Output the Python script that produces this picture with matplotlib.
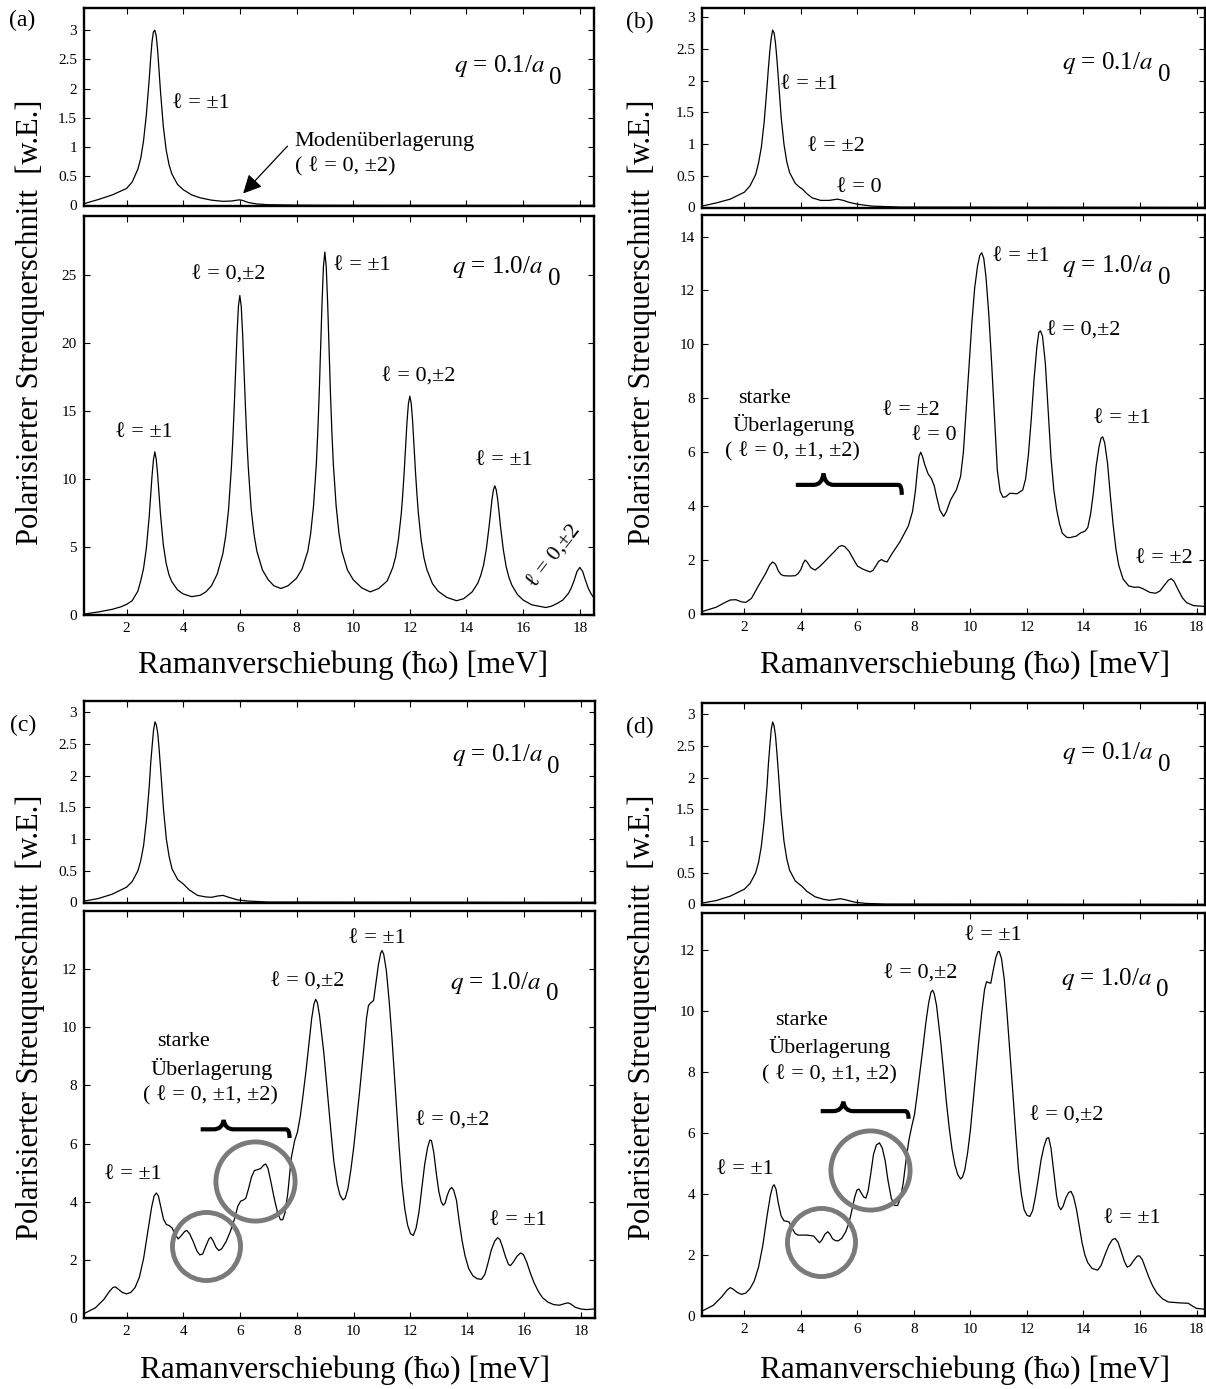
import matplotlib
matplotlib.use("Agg")
import matplotlib.pyplot as plt
from matplotlib.path import Path
from matplotlib.patches import PathPatch

plt.rcParams['font.family'] = ['Liberation Serif', 'DejaVu Serif']
plt.rcParams['mathtext.fontset'] = 'stix'

# ---------------------------------------------------------------------------
# Spectra: Raman shift (meV) and polarised scattering cross section (arb. u.)
# ---------------------------------------------------------------------------

# (a) q = 0.1/a0
shift_a_small = [0.5, 1.0, 1.5, 2.0, 2.2, 2.4, 2.5, 2.6, 2.7, 2.8, 2.85, 2.9, 2.95, 3.0,
                 3.05, 3.1, 3.15, 3.2, 3.3, 3.4, 3.5, 3.6, 3.8, 4.0, 4.3, 4.6, 5.0, 5.4,
                 5.7, 5.9, 6.0, 6.1, 6.3, 6.6, 7.0, 8.0, 10.0, 18.5]
sigma_a_small = [0.03, 0.10, 0.18, 0.29, 0.40, 0.62, 0.80, 1.10, 1.55, 2.15, 2.50, 2.80,
                 2.97, 3.00, 2.90, 2.65, 2.30, 1.95, 1.35, 0.95, 0.70, 0.54, 0.36, 0.27,
                 0.18, 0.13, 0.09, 0.07, 0.075, 0.09, 0.095, 0.085, 0.05, 0.025, 0.012,
                 0.005, 0.002, 0.0]

# (a) q = 1.0/a0
shift_a_large = [0.5, 1.0, 1.5, 1.8, 2.0, 2.2, 2.4, 2.5, 2.6, 2.7, 2.8, 2.85, 2.9, 2.95, 3.0,
                 3.05, 3.1, 3.15, 3.2, 3.3, 3.4, 3.5, 3.6, 3.8, 4.0, 4.3, 4.6, 4.8, 5.0, 5.2,
                 5.4, 5.5, 5.6, 5.7, 5.75, 5.8, 5.85, 5.9, 5.95, 6.0, 6.05, 6.1, 6.15, 6.2,
                 6.25, 6.3, 6.4, 6.5, 6.6, 6.8, 7.0, 7.2, 7.45, 7.7, 8.0, 8.2, 8.4, 8.5, 8.6,
                 8.7, 8.75, 8.8, 8.85, 8.9, 8.95, 9.0, 9.05, 9.1, 9.15, 9.2, 9.25, 9.3, 9.4,
                 9.5, 9.6, 9.8, 10.0, 10.3, 10.6, 10.9, 11.2, 11.4, 11.5, 11.6, 11.7, 11.75,
                 11.8, 11.85, 11.9, 11.95, 12.0, 12.05, 12.1, 12.15, 12.2, 12.25, 12.3, 12.4,
                 12.5, 12.6, 12.8, 13.0, 13.3, 13.65, 13.9, 14.2, 14.4, 14.5, 14.6, 14.7,
                 14.8, 14.85, 14.9, 14.95, 15.0, 15.05, 15.1, 15.15, 15.2, 15.3, 15.4, 15.5,
                 15.6, 15.8, 16.0, 16.3, 16.8, 17.0, 17.2, 17.4, 17.5, 17.6, 17.7, 17.8,
                 17.9, 18.0, 18.1, 18.2, 18.3, 18.4, 18.5]
sigma_a_large = [0.07, 0.22, 0.42, 0.60, 0.78, 1.05, 1.75, 2.50, 3.40, 4.90, 7.20, 8.70,
                 10.2, 11.4, 12.0, 11.45, 10.3, 8.8, 7.4, 5.15, 3.8, 2.95, 2.45, 1.85, 1.55,
                 1.35, 1.45, 1.70, 2.15, 3.0, 4.5, 5.8, 7.7, 10.8, 12.8, 15.2, 17.9, 20.6,
                 22.7, 23.5, 22.7, 20.6, 17.9, 15.2, 12.8, 10.8, 7.8, 5.95, 4.7, 3.3, 2.6,
                 2.15, 1.95, 2.15, 2.7, 3.4, 4.7, 6.0, 8.0, 11.1, 13.4, 16.2, 19.5, 22.9,
                 25.6, 26.7, 25.6, 22.9, 19.5, 16.2, 13.4, 11.1, 8.0, 6.0, 4.7, 3.3, 2.6,
                 2.0, 1.7, 1.95, 2.5, 3.5, 4.3, 5.6, 7.5, 8.9, 10.5, 12.35, 14.2, 15.55,
                 16.1, 15.55, 14.2, 12.35, 10.5, 8.9, 7.5, 5.5, 4.2, 3.35, 2.3, 1.75, 1.3,
                 1.05, 1.2, 1.7, 2.35, 2.9, 3.65, 4.85, 6.55, 7.55, 8.5, 9.2, 9.5, 9.2, 8.5,
                 7.55, 6.5, 4.8, 3.55, 2.75, 2.2, 1.5, 1.1, 0.75, 0.55, 0.65, 0.85, 1.1,
                 1.35, 1.6, 2.0, 2.55, 3.2, 3.5, 3.2, 2.55, 1.95, 1.55, 1.25]

# (b) q = 0.1/a0
shift_b_small = [0.5, 1.0, 1.5, 2.0, 2.2, 2.4, 2.5, 2.6, 2.7, 2.8, 2.85, 2.9, 2.95, 3.0,
                 3.05, 3.1, 3.15, 3.2, 3.3, 3.4, 3.5, 3.6, 3.8, 3.95, 4.05, 4.2, 4.4, 4.7,
                 5.0, 5.3, 5.5, 5.7, 6.0, 6.5, 7.5, 18.5]
sigma_b_small = [0.02, 0.07, 0.13, 0.24, 0.34, 0.52, 0.70, 0.95, 1.35, 1.90, 2.20, 2.47,
                 2.68, 2.80, 2.76, 2.60, 2.35, 2.05, 1.43, 1.00, 0.72, 0.55, 0.38, 0.32,
                 0.29, 0.22, 0.15, 0.11, 0.11, 0.13, 0.11, 0.08, 0.05, 0.02, 0.005, 0.0]

# (b) q = 1.0/a0
shift_b_large = [0.5, 1.0, 1.3, 1.5, 1.7, 1.9, 2.05, 2.25, 2.5, 2.75, 2.9, 3.0, 3.1, 3.2,
                 3.3, 3.4, 3.6, 3.8, 3.9, 4.0, 4.08, 4.15, 4.22, 4.35, 4.5, 4.65, 4.8, 5.0,
                 5.2, 5.35, 5.45, 5.55, 5.7, 5.85, 6.0, 6.2, 6.45, 6.55, 6.65, 6.75, 6.85,
                 6.95, 7.05, 7.2, 7.5, 7.8, 7.95, 8.05, 8.12, 8.18, 8.24, 8.3, 8.38, 8.5,
                 8.62, 8.72, 8.8, 8.92, 9.05, 9.15, 9.3, 9.5, 9.65, 9.75, 9.85, 9.95, 10.05,
                 10.15, 10.25, 10.33, 10.4, 10.47, 10.55, 10.65, 10.75, 10.85, 10.95, 11.05,
                 11.15, 11.25, 11.4, 11.65, 11.85, 11.95, 12.05, 12.15, 12.25, 12.35, 12.42,
                 12.48, 12.55, 12.65, 12.75, 12.85, 12.95, 13.05, 13.15, 13.25, 13.4, 13.5,
                 13.75, 13.9, 14.05, 14.15, 14.25, 14.35, 14.45, 14.55, 14.62, 14.68, 14.75,
                 14.85, 14.95, 15.05, 15.15, 15.25, 15.4, 15.6, 15.8, 15.95, 16.1, 16.35,
                 16.55, 16.7, 16.85, 17.0, 17.1, 17.2, 17.35, 17.5, 17.65, 17.9, 18.3]
sigma_b_large = [0.09, 0.25, 0.42, 0.52, 0.53, 0.45, 0.43, 0.58, 1.05, 1.50, 1.82, 1.93,
                 1.85, 1.60, 1.46, 1.42, 1.41, 1.42, 1.50, 1.65, 1.88, 2.00, 1.93, 1.72,
                 1.63, 1.75, 1.90, 2.12, 2.33, 2.50, 2.54, 2.50, 2.33, 2.05, 1.78, 1.66,
                 1.56, 1.62, 1.78, 1.95, 2.02, 1.96, 1.93, 2.20, 2.67, 3.26, 3.80, 4.55,
                 5.30, 5.85, 6.00, 5.85, 5.55, 5.20, 5.02, 4.75, 4.36, 3.85, 3.62, 3.80,
                 4.24, 4.60, 5.10, 6.00, 7.60, 9.20, 10.8, 12.1, 12.9, 13.3, 13.4, 13.2,
                 12.5, 11.1, 9.30, 7.30, 5.34, 4.55, 4.33, 4.35, 4.48, 4.46, 4.60, 5.00,
                 5.90, 7.20, 8.70, 9.90, 10.45, 10.5, 10.3, 9.30, 7.55, 5.80, 4.60, 3.87,
                 3.35, 3.00, 2.85, 2.83, 2.89, 3.01, 3.07, 3.20, 3.70, 4.50, 5.50, 6.20,
                 6.52, 6.57, 6.35, 5.60, 4.40, 3.30, 2.40, 1.80, 1.30, 1.04, 0.99, 1.00,
                 0.94, 0.80, 0.77, 0.85, 1.05, 1.25, 1.31, 1.22, 0.90, 0.60, 0.42, 0.31,
                 0.28]

# (c) q = 0.1/a0
shift_c_small = [0.5, 1.0, 1.5, 2.0, 2.2, 2.4, 2.5, 2.6, 2.7, 2.8, 2.85, 2.9, 2.95, 3.0,
                 3.05, 3.1, 3.15, 3.2, 3.3, 3.4, 3.5, 3.6, 3.8, 4.0, 4.2, 4.5, 4.8, 5.0,
                 5.2, 5.4, 5.6, 5.9, 6.3, 7.0, 18.5]
sigma_c_small = [0.02, 0.06, 0.13, 0.24, 0.33, 0.50, 0.66, 0.90, 1.30, 1.84, 2.20, 2.47,
                 2.72, 2.85, 2.80, 2.66, 2.40, 2.10, 1.47, 1.00, 0.72, 0.53, 0.36, 0.29,
                 0.20, 0.11, 0.085, 0.08, 0.10, 0.11, 0.08, 0.04, 0.02, 0.005, 0.0]

# (c) q = 1.0/a0
shift_c_large = [0.5, 0.9, 1.2, 1.4, 1.52, 1.6, 1.7, 1.85, 2.0, 2.15, 2.3, 2.45, 2.6, 2.75,
                 2.88, 2.97, 3.05, 3.12, 3.2, 3.3, 3.4, 3.5, 3.6, 3.7, 3.82, 3.95, 4.05,
                 4.12, 4.22, 4.35, 4.48, 4.58, 4.68, 4.8, 4.9, 4.97, 5.05, 5.15, 5.25, 5.35,
                 5.5, 5.65, 5.8, 5.92, 6.02, 6.12, 6.2, 6.3, 6.4, 6.5, 6.6, 6.72, 6.82, 6.9,
                 6.98, 7.08, 7.2, 7.32, 7.42, 7.5, 7.58, 7.68, 7.8, 7.92, 8.02, 8.12, 8.22,
                 8.32, 8.42, 8.52, 8.6, 8.66, 8.72, 8.8, 8.95, 9.1, 9.2, 9.3, 9.42, 9.52,
                 9.62, 9.7, 9.8, 9.9, 10.0, 10.1, 10.2, 10.35, 10.45, 10.52, 10.6, 10.7,
                 10.78, 10.87, 10.95, 11.0, 11.06, 11.15, 11.25, 11.35, 11.5, 11.6, 11.7,
                 11.8, 11.9, 12.0, 12.1, 12.2, 12.3, 12.4, 12.5, 12.6, 12.68, 12.74, 12.82,
                 12.92, 13.0, 13.08, 13.15, 13.22, 13.3, 13.38, 13.45, 13.52, 13.62, 13.72,
                 13.82, 13.92, 14.05, 14.2, 14.35, 14.5, 14.62, 14.72, 14.85, 14.97, 15.07,
                 15.15, 15.25, 15.35, 15.45, 15.52, 15.62, 15.75, 15.88, 15.98, 16.1, 16.22,
                 16.35, 16.5, 16.65, 16.85, 17.05, 17.25, 17.45, 17.55, 17.65, 17.8, 18.0,
                 18.2, 18.5]
sigma_c_large = [0.15, 0.35, 0.64, 0.92, 1.05, 1.07, 1.00, 0.88, 0.83, 0.88, 1.05, 1.40,
                 2.05, 3.00, 3.80, 4.20, 4.30, 4.20, 3.85, 3.40, 3.22, 3.18, 3.10, 2.90,
                 2.72, 2.86, 2.98, 3.01, 2.90, 2.62, 2.30, 2.17, 2.20, 2.49, 2.72, 2.78,
                 2.65, 2.43, 2.32, 2.38, 2.62, 2.96, 3.40, 3.85, 4.02, 4.06, 4.12, 4.46,
                 4.85, 5.07, 5.10, 5.14, 5.25, 5.30, 5.15, 4.70, 4.12, 3.62, 3.38, 3.38,
                 3.62, 4.30, 5.50, 6.10, 6.40, 6.95, 7.70, 8.50, 9.40, 10.3, 10.8, 10.96,
                 10.85, 10.38, 9.10, 7.48, 6.40, 5.39, 4.60, 4.22, 4.06, 4.12, 4.46, 5.10,
                 5.86, 6.80, 7.71, 9.22, 10.3, 10.75, 10.84, 10.92, 11.5, 12.15, 12.55,
                 12.64, 12.5, 11.95, 10.9, 9.60, 7.36, 5.90, 4.60, 3.75, 3.19, 2.90, 2.84,
                 3.10, 3.65, 4.45, 5.28, 5.85, 6.12, 6.10, 5.70, 4.90, 4.35, 4.00, 3.88,
                 3.95, 4.23, 4.42, 4.49, 4.40, 4.05, 3.30, 2.65, 2.15, 1.70, 1.45, 1.35,
                 1.33, 1.50, 1.85, 2.35, 2.65, 2.76, 2.70, 2.42, 2.10, 1.85, 1.80, 1.92,
                 2.12, 2.24, 2.18, 1.91, 1.55, 1.22, 0.92, 0.70, 0.54, 0.46, 0.44, 0.50,
                 0.52, 0.48, 0.37, 0.31, 0.29, 0.31]

# (d) q = 0.1/a0
shift_d_small = [0.5, 1.0, 1.5, 2.0, 2.2, 2.4, 2.5, 2.6, 2.7, 2.8, 2.85, 2.9, 2.95, 3.0,
                 3.05, 3.1, 3.15, 3.2, 3.3, 3.4, 3.5, 3.6, 3.8, 4.05, 4.2, 4.5, 4.8, 5.0,
                 5.2, 5.4, 5.6, 5.9, 6.3, 7.0, 18.3]
sigma_d_small = [0.02, 0.06, 0.13, 0.24, 0.33, 0.50, 0.66, 0.92, 1.32, 1.86, 2.22, 2.50,
                 2.76, 2.88, 2.82, 2.67, 2.40, 2.10, 1.46, 1.00, 0.72, 0.54, 0.37, 0.28,
                 0.21, 0.12, 0.08, 0.065, 0.075, 0.09, 0.07, 0.035, 0.015, 0.005, 0.0]

# (d) q = 1.0/a0
shift_d_large = [0.5, 0.9, 1.2, 1.4, 1.5, 1.6, 1.75, 1.9, 2.05, 2.2, 2.35, 2.5, 2.65, 2.8,
                 2.92, 3.0, 3.05, 3.12, 3.2, 3.3, 3.4, 3.5, 3.58, 3.7, 3.8, 3.9, 4.2, 4.45,
                 4.58, 4.66, 4.75, 4.85, 4.95, 5.03, 5.12, 5.22, 5.32, 5.45, 5.58, 5.7, 5.8,
                 5.9, 5.98, 6.05, 6.12, 6.22, 6.3, 6.38, 6.47, 6.57, 6.67, 6.78, 6.88, 6.98,
                 7.08, 7.2, 7.32, 7.42, 7.52, 7.62, 7.72, 7.82, 7.92, 8.02, 8.12, 8.22,
                 8.32, 8.42, 8.52, 8.6, 8.66, 8.72, 8.8, 8.95, 9.05, 9.15, 9.25, 9.35, 9.45,
                 9.55, 9.65, 9.72, 9.8, 9.9, 10.0, 10.1, 10.2, 10.3, 10.4, 10.5, 10.57,
                 10.64, 10.72, 10.8, 10.9, 10.97, 11.02, 11.1, 11.2, 11.3, 11.4, 11.5, 11.6,
                 11.7, 11.8, 11.9, 12.0, 12.1, 12.2, 12.3, 12.4, 12.5, 12.6, 12.7, 12.77,
                 12.85, 12.95, 13.05, 13.12, 13.2, 13.28, 13.38, 13.48, 13.56, 13.65, 13.75,
                 13.85, 13.95, 14.05, 14.15, 14.3, 14.5, 14.62, 14.75, 14.9, 15.02, 15.12,
                 15.22, 15.32, 15.45, 15.55, 15.65, 15.78, 15.9, 15.98, 16.08, 16.18, 16.3,
                 16.45, 16.6, 16.8, 17.0, 17.4, 17.6, 17.7, 17.85, 18.0, 18.3]
sigma_d_large = [0.16, 0.35, 0.63, 0.86, 0.93, 0.88, 0.77, 0.71, 0.75, 0.90, 1.15, 1.60,
                 2.30, 3.26, 3.95, 4.24, 4.30, 4.15, 3.70, 3.28, 3.12, 3.10, 3.08, 2.85,
                 2.70, 2.65, 2.65, 2.62, 2.48, 2.40, 2.50, 2.68, 2.76, 2.68, 2.53, 2.47,
                 2.46, 2.55, 2.75, 3.04, 3.45, 3.88, 4.12, 4.16, 4.05, 3.90, 3.86, 4.10,
                 4.65, 5.30, 5.60, 5.67, 5.50, 5.10, 4.45, 3.85, 3.62, 3.62, 3.85, 4.35,
                 5.10, 5.75, 6.20, 6.60, 7.30, 8.05, 8.80, 9.60, 10.25, 10.6, 10.67, 10.55,
                 10.17, 8.96, 8.00, 6.99, 6.15, 5.45, 4.95, 4.63, 4.49, 4.55, 4.79, 5.35,
                 6.11, 7.10, 8.08, 9.05, 9.95, 10.7, 10.95, 10.92, 10.9, 11.3, 11.75, 11.93,
                 11.94, 11.7, 11.0, 9.84, 8.60, 7.32, 6.00, 4.79, 4.00, 3.48, 3.30, 3.26,
                 3.45, 3.92, 4.50, 5.12, 5.55, 5.82, 5.84, 5.50, 4.70, 3.92, 3.60, 3.48,
                 3.60, 3.88, 4.05, 4.08, 3.90, 3.50, 2.95, 2.40, 2.00, 1.75, 1.56, 1.50,
                 1.65, 1.98, 2.32, 2.50, 2.54, 2.42, 2.15, 1.78, 1.60, 1.65, 1.82, 1.96,
                 1.97, 1.85, 1.60, 1.30, 0.98, 0.75, 0.56, 0.46, 0.43, 0.42, 0.42, 0.33,
                 0.25, 0.22]

xtick_values = [2, 4, 6, 8, 10, 12, 14, 16, 18]
ytick_small = [0, 0.5, 1, 1.5, 2, 2.5, 3]
ytick_small_labels = ['0', '0.5', '1', '1.5', '2', '2.5', '3']

# ---------------------------------------------------------------------------
W, H = 1206, 1389
fig = plt.figure(figsize=(W / 100, H / 100), dpi=100)


def rect(left, top, right, bottom):
    return [left / W, 1 - bottom / H, (right - left) / W, (bottom - top) / H]


def styled_axes(box, xlim, ylim, yticks, ylabels=None, xlabels=False):
    ax = fig.add_axes(rect(*box))
    ax.set_xlim(*xlim)
    ax.set_ylim(*ylim)
    ax.set_xticks(xtick_values)
    ax.set_yticks(yticks)
    if ylabels is not None:
        ax.set_yticklabels(ylabels)
    if not xlabels:
        ax.set_xticklabels([])
    ax.tick_params(direction='in', top=True, right=True, length=4, width=0.8,
                   labelsize=11, pad=5)
    for sp in ax.spines.values():
        sp.set_linewidth(1.7)
    return ax


def q_label(ax, x, y, value):
    t = ax.text(x, y, r'$q$ = ' + value + r'/$a$', fontsize=18, ha='left', va='center')
    ax.annotate('0', xy=(1, 0), xycoords=t, xytext=(3, 1), textcoords='offset points',
                fontsize=18, ha='left', va='center')


def note(ax, x, y, s, **kw):
    kw.setdefault('fontsize', 16)
    kw.setdefault('ha', 'left')
    kw.setdefault('va', 'center')
    ax.text(x, y, s, **kw)


def brace(ax, x0, xt, x1, y, h, drop):
    w = 0.35
    r = 0.12
    verts = [(x0, y), (xt - w, y), (xt - 0.05, y), (xt, y + h),
             (xt + 0.05, y), (xt + w, y), (x1 - r, y), (x1, y), (x1, y - drop)]
    codes = [Path.MOVETO, Path.LINETO, Path.CURVE3, Path.CURVE3,
             Path.CURVE3, Path.CURVE3, Path.LINETO, Path.CURVE3, Path.CURVE3]
    ax.add_patch(PathPatch(Path(verts, codes), fill=False, lw=3, color='black',
                           capstyle='butt'))


def ring(ax, x, y, size):
    ax.plot([x], [y], 'o', ms=size, mfc='none', mec='#7a7a7a', mew=3.5)


def curve(ax, xs, ys):
    ax.plot(xs, ys, color='black', lw=0.9, solid_joinstyle='round')


ELL = '\u2113'
PM = '\u00b1'

# ----------------------------- (a) -----------------------------------------
ax = styled_axes((84, 8, 594, 206), (0.5, 18.5), (-0.01, 3.38), ytick_small, ytick_small_labels)
curve(ax, shift_a_small, sigma_a_small)
note(ax, 3.62, 1.74, f'{ELL} = {PM}1')
q_label(ax, 13.55, 2.38, '0.1')
note(ax, 7.94, 1.1, 'Modenüberlagerung')
note(ax, 7.94, 0.66, f'( {ELL} = 0, {PM}2)')
ax.annotate('', xy=(6.05, 0.17), xytext=(7.75, 1.05),
            arrowprops=dict(arrowstyle='-|>', mutation_scale=28, lw=0.9, color='black'))

ax = styled_axes((84, 216, 594, 615), (0.5, 18.5), (0, 29.35), [0, 5, 10, 15, 20, 25],
                 xlabels=True)
curve(ax, shift_a_large, sigma_a_large)
note(ax, 1.6, 13.4, f'{ELL} = {PM}1')
note(ax, 4.27, 25.0, f'{ELL} = 0,{PM}2')
note(ax, 9.29, 25.7, f'{ELL} = {PM}1')
q_label(ax, 13.5, 25.6, '1.0')
note(ax, 10.98, 17.5, f'{ELL} = 0,{PM}2')
note(ax, 14.29, 11.4, f'{ELL} = {PM}1')
note(ax, 17.12, 4.3, f'{ELL} = 0,{PM}2', ha='center', rotation=52)

# ----------------------------- (b) -----------------------------------------
ax = styled_axes((702, 8, 1205, 208), (0.5, 18.3), (-0.01, 3.15), ytick_small, ytick_small_labels)
curve(ax, shift_b_small, sigma_b_small)
note(ax, 3.27, 1.95, f'{ELL} = {PM}1')
note(ax, 4.22, 0.96, f'{ELL} = {PM}2')
note(ax, 5.25, 0.32, f'{ELL} = 0')
q_label(ax, 13.25, 2.28, '0.1')

ax = styled_axes((702, 215, 1205, 614), (0.5, 18.3), (0, 14.8), [0, 2, 4, 6, 8, 10, 12, 14],
                 xlabels=True)
curve(ax, shift_b_large, sigma_b_large)
note(ax, 10.77, 13.27, f'{ELL} = {PM}1')
q_label(ax, 13.25, 12.9, '1.0')
note(ax, 12.68, 10.5, f'{ELL} = 0,{PM}2')
note(ax, 2.72, 8.0, 'starke', ha='center')
note(ax, 3.75, 7.0, 'Überlagerung', ha='center')
note(ax, 3.7, 6.02, f'( {ELL} = 0, {PM}1, {PM}2)', ha='center')
note(ax, 6.88, 7.55, f'{ELL} = {PM}2')
note(ax, 7.9, 6.63, f'{ELL} = 0')
note(ax, 14.32, 7.25, f'{ELL} = {PM}1')
note(ax, 15.82, 2.05, f'{ELL} = {PM}2')
brace(ax, 3.82, 4.8, 7.57, 4.79, 0.42, 0.37)

# ----------------------------- (c) -----------------------------------------
ax = styled_axes((84, 701, 595, 903), (0.5, 18.5), (-0.01, 3.18), ytick_small, ytick_small_labels)
curve(ax, shift_c_small, sigma_c_small)
q_label(ax, 13.45, 2.32, '0.1')

ax = styled_axes((84, 911, 595, 1318), (0.5, 18.5), (0, 14.0), [0, 2, 4, 6, 8, 10, 12],
                 xlabels=True)
curve(ax, shift_c_large, sigma_c_large)
note(ax, 1.19, 4.93, f'{ELL} = {PM}1')
note(ax, 4.0, 9.5, 'starke', ha='center')
note(ax, 5.01, 8.58, 'Überlagerung', ha='center')
note(ax, 4.94, 7.65, f'( {ELL} = 0, {PM}1, {PM}2)', ha='center')
note(ax, 7.04, 11.54, f'{ELL} = 0,{PM}2')
note(ax, 9.8, 13.04, f'{ELL} = {PM}1')
q_label(ax, 13.4, 11.54, '1.0')
note(ax, 12.17, 6.78, f'{ELL} = 0,{PM}2')
note(ax, 14.77, 3.36, f'{ELL} = {PM}1')
brace(ax, 4.61, 5.42, 7.74, 6.49, 0.32, 0.3)
ring(ax, 4.78, 2.47, 49)
ring(ax, 6.54, 4.72, 57)

# ----------------------------- (d) -----------------------------------------
ax = styled_axes((702, 703, 1205, 905), (0.5, 18.3), (-0.01, 3.18), ytick_small, ytick_small_labels)
curve(ax, shift_d_small, sigma_d_small)
q_label(ax, 13.25, 2.39, '0.1')

ax = styled_axes((702, 913, 1205, 1316), (0.5, 18.3), (0, 13.2), [0, 2, 4, 6, 8, 10, 12],
                 xlabels=True)
curve(ax, shift_d_large, sigma_d_large)
note(ax, 1.0, 4.79, f'{ELL} = {PM}1')
note(ax, 4.02, 9.67, 'starke', ha='center')
note(ax, 5.02, 8.8, 'Überlagerung', ha='center')
note(ax, 5.0, 7.89, f'( {ELL} = 0, {PM}1, {PM}2)', ha='center')
note(ax, 6.9, 11.21, f'{ELL} = 0,{PM}2')
note(ax, 9.76, 12.47, f'{ELL} = {PM}1')
q_label(ax, 13.2, 11.05, '1.0')
note(ax, 12.08, 6.55, f'{ELL} = 0,{PM}2')
note(ax, 14.7, 3.2, f'{ELL} = {PM}1')
brace(ax, 4.7, 5.5, 7.81, 6.71, 0.31, 0.25)
ring(ax, 4.72, 2.41, 49)
ring(ax, 6.45, 4.77, 57)

# ----------------------------- shared labels --------------------------------
ylab = 'Polarisierter Streuquerschnitt  [w.E.]'
xlab = 'Ramanverschiebung (\u0127\u03c9) [meV]'
for (xc, yc) in [(30, 322), (642, 322), (30, 1017), (642, 1017)]:
    fig.text(xc / W, 1 - yc / H, ylab, rotation=90, ha='center', va='center', fontsize=22)
for (xc, yc) in [(343, 665), (965, 665), (345, 1370), (965, 1370)]:
    fig.text(xc / W, 1 - yc / H, xlab, ha='center', va='center', fontsize=22.5)
for (xc, yc, s) in [(22, 20, '(a)'), (640, 22, '(b)'), (23, 725, '(c)'), (640, 727, '(d)')]:
    fig.text(xc / W, 1 - yc / H, s, ha='center', va='center', fontsize=17)

fig.savefig('out.png', dpi=100)
